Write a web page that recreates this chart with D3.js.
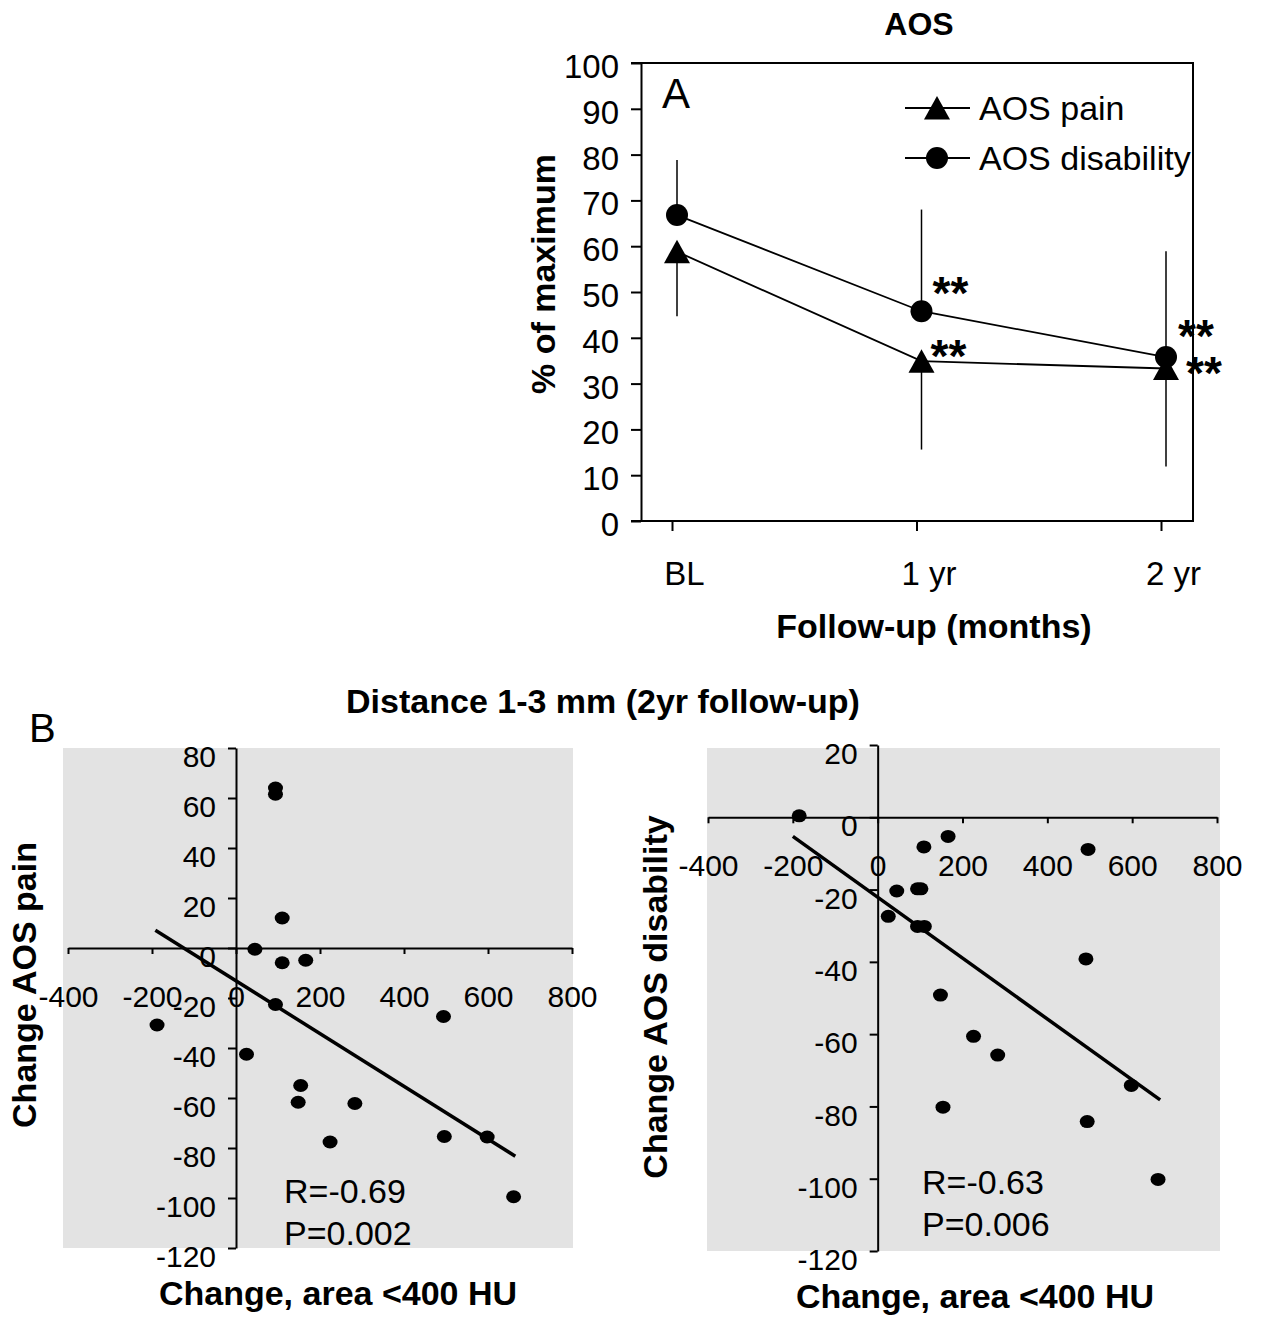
<!DOCTYPE html>
<html>
<head>
<meta charset="utf-8">
<script src="https://cdn.jsdelivr.net/npm/d3@7/dist/d3.min.js"></script>
<style>
    body { margin: 0; background: #fff; }
    svg { display: block; }
    text { font-family: 'Liberation Sans', Arial, sans-serif; fill: #000; }
</style>
</head>
<body>
<div id="chart"></div>
<script>
// Panel A data (% of maximum)
const categories = ['BL', '1 yr', '2 yr']
const painMean = [58.8, 34.9, 33.3]
const painSdLow = [44.7, 15.6, 11.9]
const disabilityMean = [66.8, 45.8, 35.8]
const disabilitySdHigh = [78.8, 68.0, 58.9]
const yTicksA = [0, 10, 20, 30, 40, 50, 60, 70, 80, 90, 100]
const seriesLabels = ['AOS pain', 'AOS disability']
// significance stars: [series, category]
const sigMarks = [['disability', '1 yr'], ['pain', '1 yr'], ['disability', '2 yr'], ['pain', '2 yr']]

// Panel B data (change in area <400 HU vs change in AOS)
const painX = [94, 94, 110, 45, 110, 166, 94, -188, 25, 494, 154, 148, 283, 224, 496, 598, 661]
const painY = [64, 61.5, 12, -0.5, -5.9, -4.9, -22.6, -30.8, -42.5, -27.4, -55, -61.7, -62.2, -77.6, -75.4, -75.6, -99.5]
const painFitX = [-192, 665]
const painFitY = [7.1, -83.3]
const disabilityX = [-185, 166, 109, 496, 45, 94, 102, 25, 94, 110, 491, 148, 226, 283, 598, 154, 494, 661]
const disabilityY = [0.4, -5.3, -8.2, -8.9, -20.4, -19.8, -19.8, -27.4, -30.2, -30.2, -39.2, -49.2, -60.6, -65.8, -74.2, -80.2, -84.2, -100.2]
const disabilityFitX = [-200, 666]
const disabilityFitY = [-5.3, -78.2]
const xTicksB = [-400, -200, 0, 200, 400, 600, 800]
const yTicksPain = [-120, -100, -80, -60, -40, -20, 0, 20, 40, 60, 80]
const yTicksDisability = [-120, -100, -80, -60, -40, -20, 0, 20]

// Text
const titleA = 'AOS'
const xTitleA = 'Follow-up (months)'
const yTitleA = '% of maximum'
const titleB = 'Distance 1-3 mm (2yr follow-up)'
const xTitleB = 'Change, area <400 HU'

// Styles
const bgGrey = '#e3e3e3'
const boldSize = 34
const plainFmt = d => String(d)   // keep ascii hyphen for negatives

const svg = d3.select('#chart')
    .append('svg')
    .attr('width', 1268)
    .attr('height', 1317)

// ---------- Panel A ----------
const frame = {left: 641, right: 1193, top: 63, bottom: 521}
const yA = d3.scaleLinear().domain([0, 100]).range([frame.bottom, frame.top])
const xA = d3.scalePoint().domain(categories).range([677, 1166])

const gA = svg.append('g')

const yAxisA = gA.append('g')
    .attr('transform', `translate(${frame.left},0)`)
    .call(d3.axisLeft(yA).tickValues(yTicksA).tickFormat(plainFmt).tickSize(10).tickPadding(12).tickSizeOuter(0))
yAxisA.selectAll('text').style('font-size', '33px').attr('dy', '0.44em')

const xAxisA = gA.append('g')
    .attr('transform', `translate(-5,${frame.bottom})`)
    .call(d3.axisBottom(xA).tickSize(10).tickSizeOuter(0))
xAxisA.select('.domain').remove()
xAxisA.selectAll('text').style('font-size', '33px').attr('x', 12).attr('y', 64).attr('dy', 0)

// frame lines
gA.append('path')
    .attr('d', `M${frame.left - 10},${frame.top}H${frame.right}V${frame.bottom}H${frame.left - 10}`)
    .attr('fill', 'none')
    .attr('stroke', '#000')
    .attr('stroke-width', 2)
gA.selectAll('.domain, .tick line').attr('stroke-width', 2)

const lineA = d3.line().x((d, i) => xA(categories[i])).y(d => yA(d))

// error bars (one-sided)
gA.selectAll('.err-pain').data(categories).join('line')
    .attr('x1', d => xA(d)).attr('x2', d => xA(d))
    .attr('y1', (d, i) => yA(painMean[i])).attr('y2', (d, i) => yA(painSdLow[i]))
    .attr('stroke', '#000').attr('stroke-width', 1.5)
gA.selectAll('.err-dis').data(categories).join('line')
    .attr('x1', d => xA(d)).attr('x2', d => xA(d))
    .attr('y1', (d, i) => yA(disabilityMean[i])).attr('y2', (d, i) => yA(disabilitySdHigh[i]))
    .attr('stroke', '#000').attr('stroke-width', 1.5)

gA.append('path').attr('d', lineA(painMean)).attr('fill', 'none').attr('stroke', '#000').attr('stroke-width', 1.8)
gA.append('path').attr('d', lineA(disabilityMean)).attr('fill', 'none').attr('stroke', '#000').attr('stroke-width', 1.8)

const triPath = 'M0,-12L13,11.5L-13,11.5Z'
gA.selectAll('.tri').data(painMean).join('path')
    .attr('d', triPath)
    .attr('transform', (d, i) => `translate(${xA(categories[i])},${yA(d)})`)
gA.selectAll('.dot').data(disabilityMean).join('circle')
    .attr('cx', (d, i) => xA(categories[i]))
    .attr('cy', d => yA(d))
    .attr('r', 11)

// significance stars
const starOffset = {
    'disability|1 yr': [29, -26],
    'pain|1 yr': [27, -13],
    'disability|2 yr': [30, -29],
    'pain|2 yr': [38, -3]
}
sigMarks.forEach(([s, c]) => {
    const i = categories.indexOf(c)
    const v = s === 'pain' ? painMean[i] : disabilityMean[i]
    const off = starOffset[s + '|' + c]
    gA.append('text')
        .attr('x', xA(c) + off[0])
        .attr('y', yA(v) + off[1] + 24)
        .attr('text-anchor', 'middle')
        .style('font-size', '46px')
        .style('font-weight', 'bold')
        .text('**')
})

// legend
const legendY = [108, 158]
seriesLabels.forEach((lab, i) => {
    gA.append('line')
        .attr('x1', 905).attr('x2', 970)
        .attr('y1', legendY[i]).attr('y2', legendY[i])
        .attr('stroke', '#000').attr('stroke-width', 1.8)
    if (i === 0) {
        gA.append('path').attr('d', triPath).attr('transform', `translate(937,${legendY[i]})`)
    } else {
        gA.append('circle').attr('cx', 937).attr('cy', legendY[i]).attr('r', 11)
    }
    gA.append('text')
        .attr('x', 979).attr('y', legendY[i] + 12)
        .style('font-size', '34px')
        .text(lab)
})

gA.append('text').attr('x', 662).attr('y', 108).style('font-size', '42px').text('A')
gA.append('text').attr('x', 919).attr('y', 35).attr('text-anchor', 'middle')
    .style('font-size', '32px').style('font-weight', 'bold').text(titleA)
gA.append('text').attr('x', 934).attr('y', 638).attr('text-anchor', 'middle')
    .style('font-size', boldSize + 'px').style('font-weight', 'bold').text(xTitleA)
gA.append('text').attr('transform', 'translate(555,274) rotate(-90)').attr('text-anchor', 'middle')
    .style('font-size', boldSize + 'px').style('font-weight', 'bold').text(yTitleA)

// ---------- Panel B ----------
svg.append('text').attr('x', 29).attr('y', 742).style('font-size', '40px').text('B')
svg.append('text').attr('x', 603).attr('y', 713).attr('text-anchor', 'middle')
    .style('font-size', boldSize + 'px').style('font-weight', 'bold').text(titleB)

function drawScatter(cfg, xs, ys, fitX, fitY, yTicks, yTitle, rText, pText) {
    const g = svg.append('g')
    const x = d3.scaleLinear().domain([-400, 800]).range(cfg.xRange)
    const y = d3.scaleLinear().domain([-120, yTicks[yTicks.length - 1]]).range(cfg.yRange)

    g.append('rect')
        .attr('x', cfg.bg[0]).attr('y', cfg.bg[1])
        .attr('width', cfg.bg[2] - cfg.bg[0]).attr('height', cfg.bg[3] - cfg.bg[1])
        .attr('fill', bgGrey)

    const yAx = g.append('g')
        .attr('transform', `translate(${x(0)},0)`)
        .call(d3.axisLeft(y).tickValues(yTicks).tickFormat(plainFmt).tickSize(8).tickPadding(12).tickSizeOuter(0))
    yAx.selectAll('text').style('font-size', '30px').attr('dy', '0.62em')

    const xAx = g.append('g')
        .attr('transform', `translate(0,${y(0)})`)
        .call(d3.axisBottom(x).tickValues(xTicksB).tickFormat(plainFmt).tickSize(6).tickSizeOuter(0))
    xAx.selectAll('text').style('font-size', '30px').attr('y', 59).attr('dy', 0)
    g.selectAll('.domain, .tick line').attr('stroke-width', 2)

    g.append('line')
        .attr('x1', x(fitX[0])).attr('y1', y(fitY[0]))
        .attr('x2', x(fitX[1])).attr('y2', y(fitY[1]))
        .attr('stroke', '#000').attr('stroke-width', 3.5)

    g.selectAll('.pt').data(xs).join('ellipse')
        .attr('cx', d => x(d))
        .attr('cy', (d, i) => y(ys[i]))
        .attr('rx', 7.5).attr('ry', 6.5)

    g.append('text').attr('x', cfg.rx).attr('y', cfg.ry).style('font-size', '34px').text(rText)
    g.append('text').attr('x', cfg.rx).attr('y', cfg.ry + 42).style('font-size', '34px').text(pText)

    g.append('text').attr('x', cfg.xTitle[0]).attr('y', cfg.xTitle[1]).attr('text-anchor', 'middle')
        .style('font-size', boldSize + 'px').style('font-weight', 'bold').text(xTitleB)
    g.append('text').attr('transform', `translate(${cfg.yTitle[0]},${cfg.yTitle[1]}) rotate(-90)`)
        .attr('text-anchor', 'middle')
        .style('font-size', boldSize + 'px').style('font-weight', 'bold').text(yTitle)
}

drawScatter({
    bg: [63, 748, 573, 1248],
    xRange: [68, 572],
    yRange: [1248, 748],
    rx: 284, ry: 1203,
    xTitle: [338, 1305],
    yTitle: [36, 985]
}, painX, painY, painFitX, painFitY, yTicksPain, 'Change AOS pain', 'R=-0.69', 'P=0.002')

drawScatter({
    bg: [707, 748, 1220, 1251],
    xRange: [708, 1217],
    yRange: [1251, 745],
    rx: 922, ry: 1194,
    xTitle: [975, 1308],
    yTitle: [667, 997]
}, disabilityX, disabilityY, disabilityFitX, disabilityFitY, yTicksDisability, 'Change AOS disability', 'R=-0.63', 'P=0.006')
</script>
</body>
</html>
